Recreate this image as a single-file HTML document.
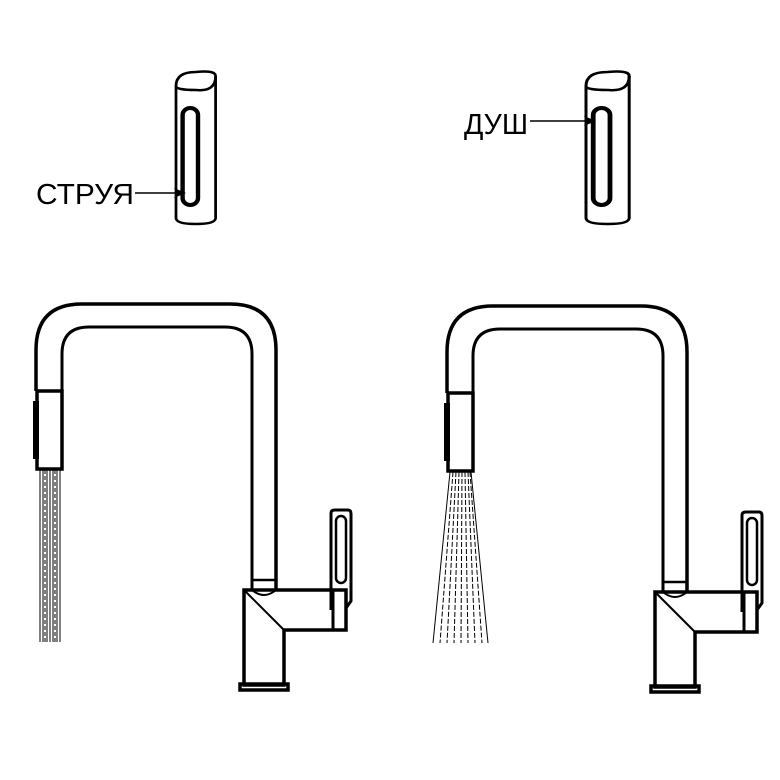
<!DOCTYPE html>
<html><head><meta charset="utf-8"><style>
html,body{margin:0;padding:0;background:#fff;}
svg{display:block}
text{font-family:"Liberation Sans",sans-serif;font-size:29px;fill:#000}
</style></head><body>
<svg width="780" height="780" viewBox="0 0 780 780" xmlns="http://www.w3.org/2000/svg">
<defs>
<g id="faucet" fill="none" stroke="#000" stroke-width="3.5">
  <path d="M447,393 V352 Q447,306 493,306 H641 Q687,306 687,352 V592"/>
  <path d="M473,393 V356 Q473,329 500,329 H636 Q663,329 663,356 V592" stroke-width="3"/>
  <path d="M663,582 H687" stroke-width="2.5"/>
  <rect x="448" y="393" width="25" height="78"/>
  <path d="M447,403 V461" stroke-width="6"/>
  <path d="M655,592 H757 V632 H695 V687 H655 Z"/>
  <path d="M663,592 Q675,602 687,592" stroke-width="2"/>
  <path d="M655,592 L695,632" stroke-width="2"/>
  <path d="M744,592 V632" stroke-width="3"/>
  <rect x="651" y="686" width="48" height="6"/>
  <path d="M742,612 V515 Q742,512 746,512 H759 Q762,512 762,516 V603 L757,610" stroke-width="3"/>
  <rect x="747" y="518" width="10" height="67" rx="5" stroke-width="2.5"/>
</g>
<g id="handle" fill="none" stroke="#000">
  <path d="M0,18 V150 Q0,156 18,156 Q36,156 36,150 V8" stroke-width="2.5"/>
  <path d="M0,18 Q0,4 18,4 Q36,2 36,8 Q36,24 18,22 Q0,22 0,18 Z" stroke-width="2.5"/>
  <rect x="6" y="40" width="14" height="97" rx="7" stroke-width="4"/>
</g>
</defs>
<use href="#faucet" transform="translate(-411,-2)"/>
<use href="#faucet"/>
<g stroke="#000" stroke-width="1" fill="none">
  <path d="M40,470 V642 M43,470 V642 M47,470 V642 M50,470 V642 M53,470 V642 M57,470 V642 M60,470 V642"/>
  <path d="M45,470 V642 M55,470 V642" stroke-dasharray="4,2"/>
</g>
<g stroke="#000" stroke-width="1" fill="none">
  <path d="M450,472 L433,643 M471,472 L488,643"/>
  <path d="M453,472 L440,643 M456,472 L447,643 M459,472 L454,643 M462,472 L461,643 M465,472 L468,643 M468,472 L475,643 M470,472 L482,643" stroke-dasharray="5,2"/>
</g>
<use href="#handle" transform="translate(176,68) scale(1.1,1)"/>
<use href="#handle" transform="translate(586,68) scale(1.2,1)"/>
<text x="36" y="204" textLength="98" lengthAdjust="spacingAndGlyphs">СТРУЯ</text>
<path d="M135,193 H180" stroke="#000" stroke-width="1.5"/>
<path d="M186,193 L174,188 L177,193 L174,198 Z" fill="#000"/>
<text x="464" y="134" textLength="64" lengthAdjust="spacingAndGlyphs">ДУШ</text>
<path d="M530,121 H590" stroke="#000" stroke-width="1.5"/>
<path d="M596,121 L584,116 L587,121 L584,126 Z" fill="#000"/>
</svg>
</body></html>
